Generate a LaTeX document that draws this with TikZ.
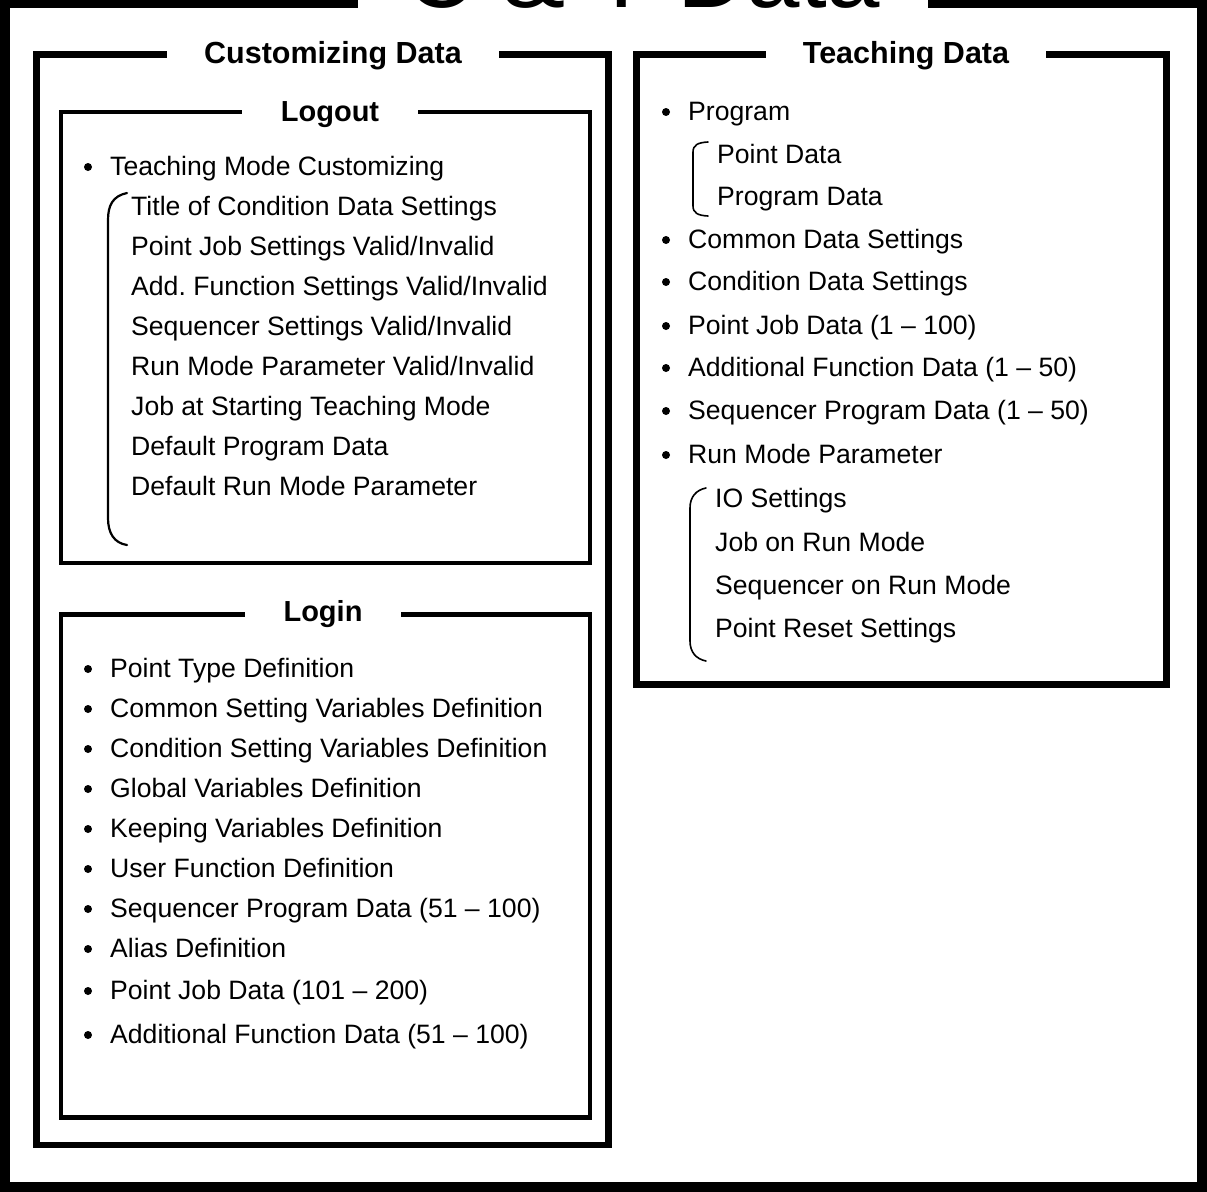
\documentclass[tikz,border=0pt]{standalone}
\usepackage{fontspec}
\setmainfont{Liberation Sans}
\frenchspacing
\newcommand\itemfont{\fontsize{26.6pt}{32pt}\selectfont}
\newcommand\ttlfont{\fontsize{30.5pt}{36pt}\selectfont\bfseries}
\newcommand\subttlfont{\fontsize{29pt}{34pt}\selectfont\bfseries}
\newcommand\bigttlfont{\fontsize{96pt}{110pt}\selectfont}
\tikzset{
  itm/.style={anchor=base west, inner sep=0pt, font=\itemfont},
  ttl/.style={anchor=base, fill=white, inner xsep=37pt, inner ysep=3pt, font=\ttlfont},
  subttl/.style={anchor=base, fill=white, inner xsep=39pt, inner ysep=3pt, font=\subttlfont},
  bigbox/.style={draw, line width=6.5pt},
  subbox/.style={draw, line width=4.5pt},
  outerbox/.style={draw, line width=10pt},
  brk/.style={line width=2.2pt, line cap=round},
  brkthin/.style={line width=1.6pt, line cap=round}
}
\begin{document}
\begin{tikzpicture}[x=1pt,y=-1pt]
\useasboundingbox (0,0) rectangle (1207,1191);
\clip (0,0) rectangle (1207,1191);
\fill[white] (0,0) rectangle (1207,1191);

% outer frame and main title
\draw[outerbox] (5,3) rectangle (1202,1186.5);
\node[anchor=base, fill=white, inner xsep=47.5pt, inner ysep=2pt, font=\bigttlfont] (main) at (643,7) {C \& T Data};

% Customizing Data
\draw[bigbox] (36.5,54.5) rectangle (608.5,1145);
\node[ttl] (cust) at (333,63) {Customizing Data};

% Logout
\draw[subbox] (61,112) rectangle (590,563);
\node[subttl] (logout) at (330,121) {Logout};
\node[itm] (l1) at (110,175.5) {Teaching Mode Customizing};
\node[itm] (l2) at (131,215.5) {Title of Condition Data Settings};
\node[itm] (l3) at (131,255.5) {Point Job Settings Valid/Invalid};
\node[itm] (l4) at (131,295.5) {Add. Function Settings Valid/Invalid};
\node[itm] (l5) at (131,335.5) {Sequencer Settings Valid/Invalid};
\node[itm] (l6) at (131,375.5) {Run Mode Parameter Valid/Invalid};
\node[itm] (l7) at (131,415.5) {Job at Starting Teaching Mode};
\node[itm] (l8) at (131,455.5) {Default Program Data};
\node[itm] (l9) at (131,495.5) {Default Run Mode Parameter};
\draw[brk] (127,193) .. controls (113,196) and (108,205) .. (108,220) -- (108,518) .. controls (108,533) and (114,543) .. (127,545);

% Login
\draw[subbox] (61,614.5) rectangle (590,1117.5);
\node[subttl] (login) at (323,621) {Login};
\node[itm] (g1) at (110,677.5) {Point Type Definition};
\node[itm] (g2) at (110,717.5) {Common Setting Variables Definition};
\node[itm] (g3) at (110,757.5) {Condition Setting Variables Definition};
\node[itm] (g4) at (110,797.5) {Global Variables Definition};
\node[itm] (g5) at (110,837.5) {Keeping Variables Definition};
\node[itm] (g6) at (110,877.5) {User Function Definition};
\node[itm] (g7) at (110,917.5) {Sequencer Program Data (51 – 100)};
\node[itm] (g8) at (110,957.5) {Alias Definition};
\node[itm] (g9) at (110,999.5) {Point Job Data (101 – 200)};
\node[itm] (g10) at (110,1043.5) {Additional Function Data (51 – 100)};

% Teaching Data
\draw[bigbox] (636.5,54.5) rectangle (1166.5,684.5);
\node[ttl] (teach) at (906,63) {Teaching Data};
\node[itm] (t1) at (688,120.5) {Program};
\node[itm] (t2) at (717,163.5) {Point Data};
\node[itm] (t3) at (717,205.5) {Program Data};
\node[itm] (t4) at (688,248.5) {Common Data Settings};
\node[itm] (t5) at (688,290.5) {Condition Data Settings};
\node[itm] (t6) at (688,334.5) {Point Job Data (1 – 100)};
\node[itm] (t7) at (688,376.5) {Additional Function Data (1 – 50)};
\node[itm] (t8) at (688,419.5) {Sequencer Program Data (1 – 50)};
\node[itm] (t9) at (688,463.5) {Run Mode Parameter};
\node[itm] (t10) at (715,507.5) {IO Settings};
\node[itm] (t11) at (715,551.5) {Job on Run Mode};
\node[itm] (t12) at (715,594.5) {Sequencer on Run Mode};
\node[itm] (t13) at (715,637.5) {Point Reset Settings};
\draw[brkthin] (708,142) .. controls (698,142.5) and (693,145) .. (693,152) -- (693,206) .. controls (693,213) and (698,215.5) .. (708,216);
\draw[brkthin] (706,488) .. controls (696,490) and (690,497) .. (690,508) -- (690,641) .. controls (690,652) and (696,659) .. (706,661);

% bullets
\foreach \n in {l1,g1,g2,g3,g4,g5,g6,g7,g8,g9,g10,t1,t4,t5,t6,t7,t8,t9}
  \fill ([xshift=-22pt,yshift=8.5pt]\n.base west) circle (4pt);
\end{tikzpicture}
\end{document}
